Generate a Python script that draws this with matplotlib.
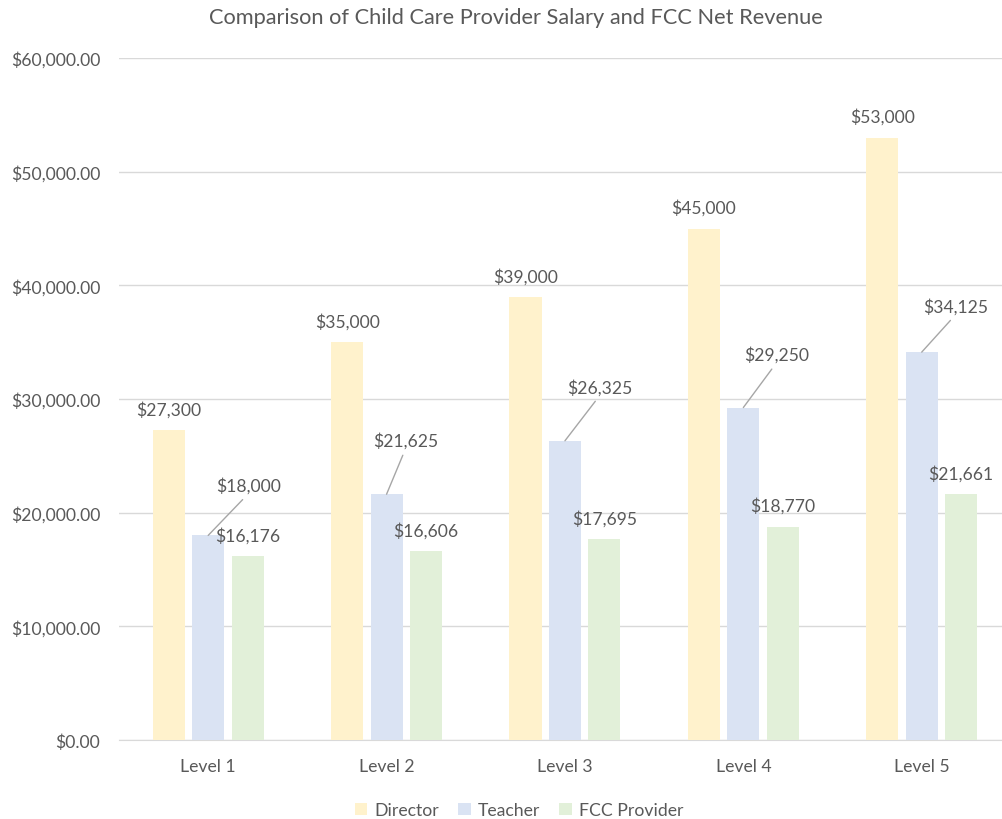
import matplotlib.pyplot as plt
import numpy as np

levels = ["Level 1", "Level 2", "Level 3", "Level 4", "Level 5"]
director = [27300, 35000, 39000, 45000, 53000]
teacher = [18000, 21625, 26325, 29250, 34125]
fcc = [16176, 16606, 17695, 18770, 21661]
series_names = ["Director", "Teacher", "FCC Provider"]
yticks = [0, 10000, 20000, 30000, 40000, 50000, 60000]

colors = ["#FFF2CC", "#DAE3F3", "#E2F0D9"]
txt = "#595959"
# label centre offsets in pixels (dx, dy) from bar top centre
dir_off = [(0, 21)] * 5
tea_off = [(40, 50), (19, 54), (35, 54), (33, 53), (34, 46)]
fcc_off = [(0, 21)] * 5

plt.rcParams['font.family'] = ['Lato', 'DejaVu Sans']

fig = plt.figure(figsize=(10.02, 8.2), dpi=100)
ax = fig.add_axes([119 / 1002, 79 / 820, 883 / 1002, 682 / 820])

x = np.arange(len(levels))
w = 0.18
step = 0.221
all_vals = [director, teacher, fcc]
offs = [dir_off, tea_off, fcc_off]
for k, (vals, name, c) in enumerate(zip(all_vals, series_names, colors)):
    xs = x + (k - 1) * step
    ax.bar(xs, vals, width=w, color=c, label=name, zorder=3)
    for i, (xi, v) in enumerate(zip(xs, vals)):
        dx, dy = offs[k][i]
        lab = "${:,}".format(v)
        if k == 1:
            ax.annotate(lab, (xi, v), xytext=(dx, dy), textcoords='offset pixels',
                        ha='center', va='center', fontsize=12.6, color=txt,
                        arrowprops=dict(arrowstyle='-', color='#A6A6A6', lw=1,
                                        shrinkA=3, shrinkB=0, relpos=(0.5, 0)))
        else:
            ax.annotate(lab, (xi, v), xytext=(dx, dy), textcoords='offset pixels',
                        ha='center', va='center', fontsize=12.6, color=txt)

ax.set_xlim(-0.5, 4.45)
ax.set_ylim(0, 60000)
ax.set_yticks(yticks)
ax.set_yticklabels(["${:,.2f}".format(t) for t in yticks])
ax.set_xticks(x)
ax.set_xticklabels(levels)
ax.grid(axis='y', color='#D9D9D9', linewidth=1, zorder=0)
for s in ['top', 'right', 'left']:
    ax.spines[s].set_visible(False)
ax.spines['bottom'].set_color('#D9D9D9')
ax.tick_params(axis='both', length=0, labelsize=12.7, colors=txt)
ax.tick_params(axis='x', pad=13)
ax.tick_params(axis='y', pad=13.5)

fig.text(516 / 1002, 1 - 18 / 820, "Comparison of Child Care Provider Salary and FCC Net Revenue",
         ha='center', va='center', fontsize=15.7, color=txt)

fig.legend(loc='center', bbox_to_anchor=(0.518, 1 - 811 / 820), ncol=3, frameon=False,
           fontsize=12.7, labelcolor=txt, handlelength=0.7, handleheight=0.7,
           handletextpad=0.4, columnspacing=1.1)

fig.savefig("out.png", dpi=100)
